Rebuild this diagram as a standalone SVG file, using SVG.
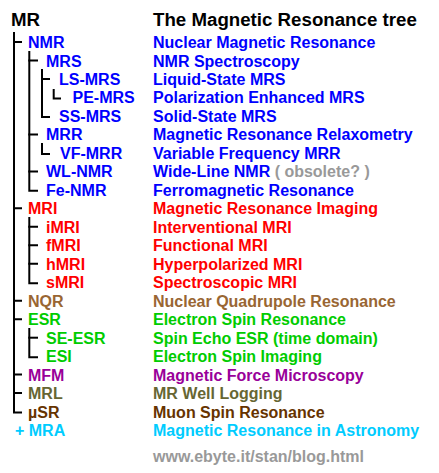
<svg xmlns="http://www.w3.org/2000/svg" width="439" height="473" viewBox="0 0 439 473">
<style>
text{font-family:"Liberation Sans",Arial,sans-serif;font-size:16px;font-weight:bold}
.h{font-size:18.7px;fill:#000}
.b{fill:#0000ff}.r{fill:#ff0000}.q{fill:#996633}.g{fill:#00cc00}.p{fill:#990099}.o{fill:#666633}.u{fill:#663300}.c{fill:#00ccff}.gr{fill:#999999}
#connectors path{fill:none;stroke:#000;stroke-width:2;stroke-linejoin:miter;stroke-linecap:butt}
</style>
<rect width="439" height="473" fill="#fff"/>
<g id="header"><text class="h" x="11" y="26">MR</text><text class="h" x="153" y="26">The Magnetic Resonance tree</text></g>
<g id="connectors">
<path d="M14 32V412.6H22"/>
<path d="M13 42H22M13 208.3H22M13 300.7H22M13 319.2H22M13 374.6H22M13 393.1H22"/>
<path d="M29.3 51V190.8H38"/>
<path d="M28.3 60.5H38M28.3 134.4H38M28.3 171.4H38"/>
<path d="M42 69V116.9H50"/>
<path d="M41 79H50"/>
<path d="M53.7 89V98.4H61"/>
<path d="M42 143V153.9H50"/>
<path d="M29.3 217V283.2H38"/>
<path d="M28.3 226.8H38M28.3 245.3H38M28.3 263.8H38"/>
<path d="M29.3 328V357.2H38"/>
<path d="M28.3 337.7H38"/>
</g>
<g id="NMR"><text class="b" x="28" y="48">NMR</text><text class="b" x="153" y="48">Nuclear Magnetic Resonance</text></g>
<g id="MRS"><text class="b" x="46" y="66.5">MRS</text><text class="b" x="153" y="66.5">NMR Spectroscopy</text></g>
<g id="LS-MRS"><text class="b" x="59" y="85">LS-MRS</text><text class="b" x="153" y="85">Liquid-State MRS</text></g>
<g id="PE-MRS"><text class="b" x="72.5" y="103.4">PE-MRS</text><text class="b" x="153" y="103.4">Polarization Enhanced MRS</text></g>
<g id="SS-MRS"><text class="b" x="59" y="121.9">SS-MRS</text><text class="b" x="153" y="121.9">Solid-State MRS</text></g>
<g id="MRR"><text class="b" x="46" y="140.4">MRR</text><text class="b" x="153" y="140.4">Magnetic Resonance Relaxometry</text></g>
<g id="VF-MRR"><text class="b" x="60" y="158.9">VF-MRR</text><text class="b" x="153" y="158.9">Variable Frequency MRR</text></g>
<g id="WL-NMR"><text class="b" x="46" y="177.4">WL-NMR</text><text class="b" x="153" y="177.4">Wide-Line NMR <tspan class="gr">( obsolete? )</tspan></text></g>
<g id="Fe-NMR"><text class="b" x="46" y="195.8">Fe-NMR</text><text class="b" x="153" y="195.8">Ferromagnetic Resonance</text></g>
<g id="MRI"><text class="r" x="28" y="214.3">MRI</text><text class="r" x="153" y="214.3">Magnetic Resonance Imaging</text></g>
<g id="iMRI"><text class="r" x="46" y="232.8">iMRI</text><text class="r" x="153" y="232.8">Interventional MRI</text></g>
<g id="fMRI"><text class="r" x="46" y="251.3">fMRI</text><text class="r" x="153" y="251.3">Functional MRI</text></g>
<g id="hMRI"><text class="r" x="46" y="269.8">hMRI</text><text class="r" x="153" y="269.8">Hyperpolarized MRI</text></g>
<g id="sMRI"><text class="r" x="46" y="288.2">sMRI</text><text class="r" x="153" y="288.2">Spectroscopic MRI</text></g>
<g id="NQR"><text class="q" x="28" y="306.7">NQR</text><text class="q" x="153" y="306.7">Nuclear Quadrupole Resonance</text></g>
<g id="ESR"><text class="g" x="28" y="325.2">ESR</text><text class="g" x="153" y="325.2">Electron Spin Resonance</text></g>
<g id="SE-ESR"><text class="g" x="46" y="343.7">SE-ESR</text><text class="g" x="153" y="343.7">Spin Echo ESR (time domain)</text></g>
<g id="ESI"><text class="g" x="46" y="362.2">ESI</text><text class="g" x="153" y="362.2">Electron Spin Imaging</text></g>
<g id="MFM"><text class="p" x="28" y="380.6">MFM</text><text class="p" x="153" y="380.6">Magnetic Force Microscopy</text></g>
<g id="MRL"><text class="o" x="28" y="399.1">MRL</text><text class="o" x="153" y="399.1">MR Well Logging</text></g>
<g id="muSR"><text class="u" x="28" y="417.6">µSR</text><text class="u" x="153" y="417.6">Muon Spin Resonance</text></g>
<g id="MRA"><text class="c" x="15" y="436.1">+ MRA</text><text class="c" x="153" y="436.1">Magnetic Resonance in Astronomy</text></g>
<g id="footer"><text class="gr" x="153" y="461.7">www.ebyte.it/stan/blog.html</text></g>
</svg>
